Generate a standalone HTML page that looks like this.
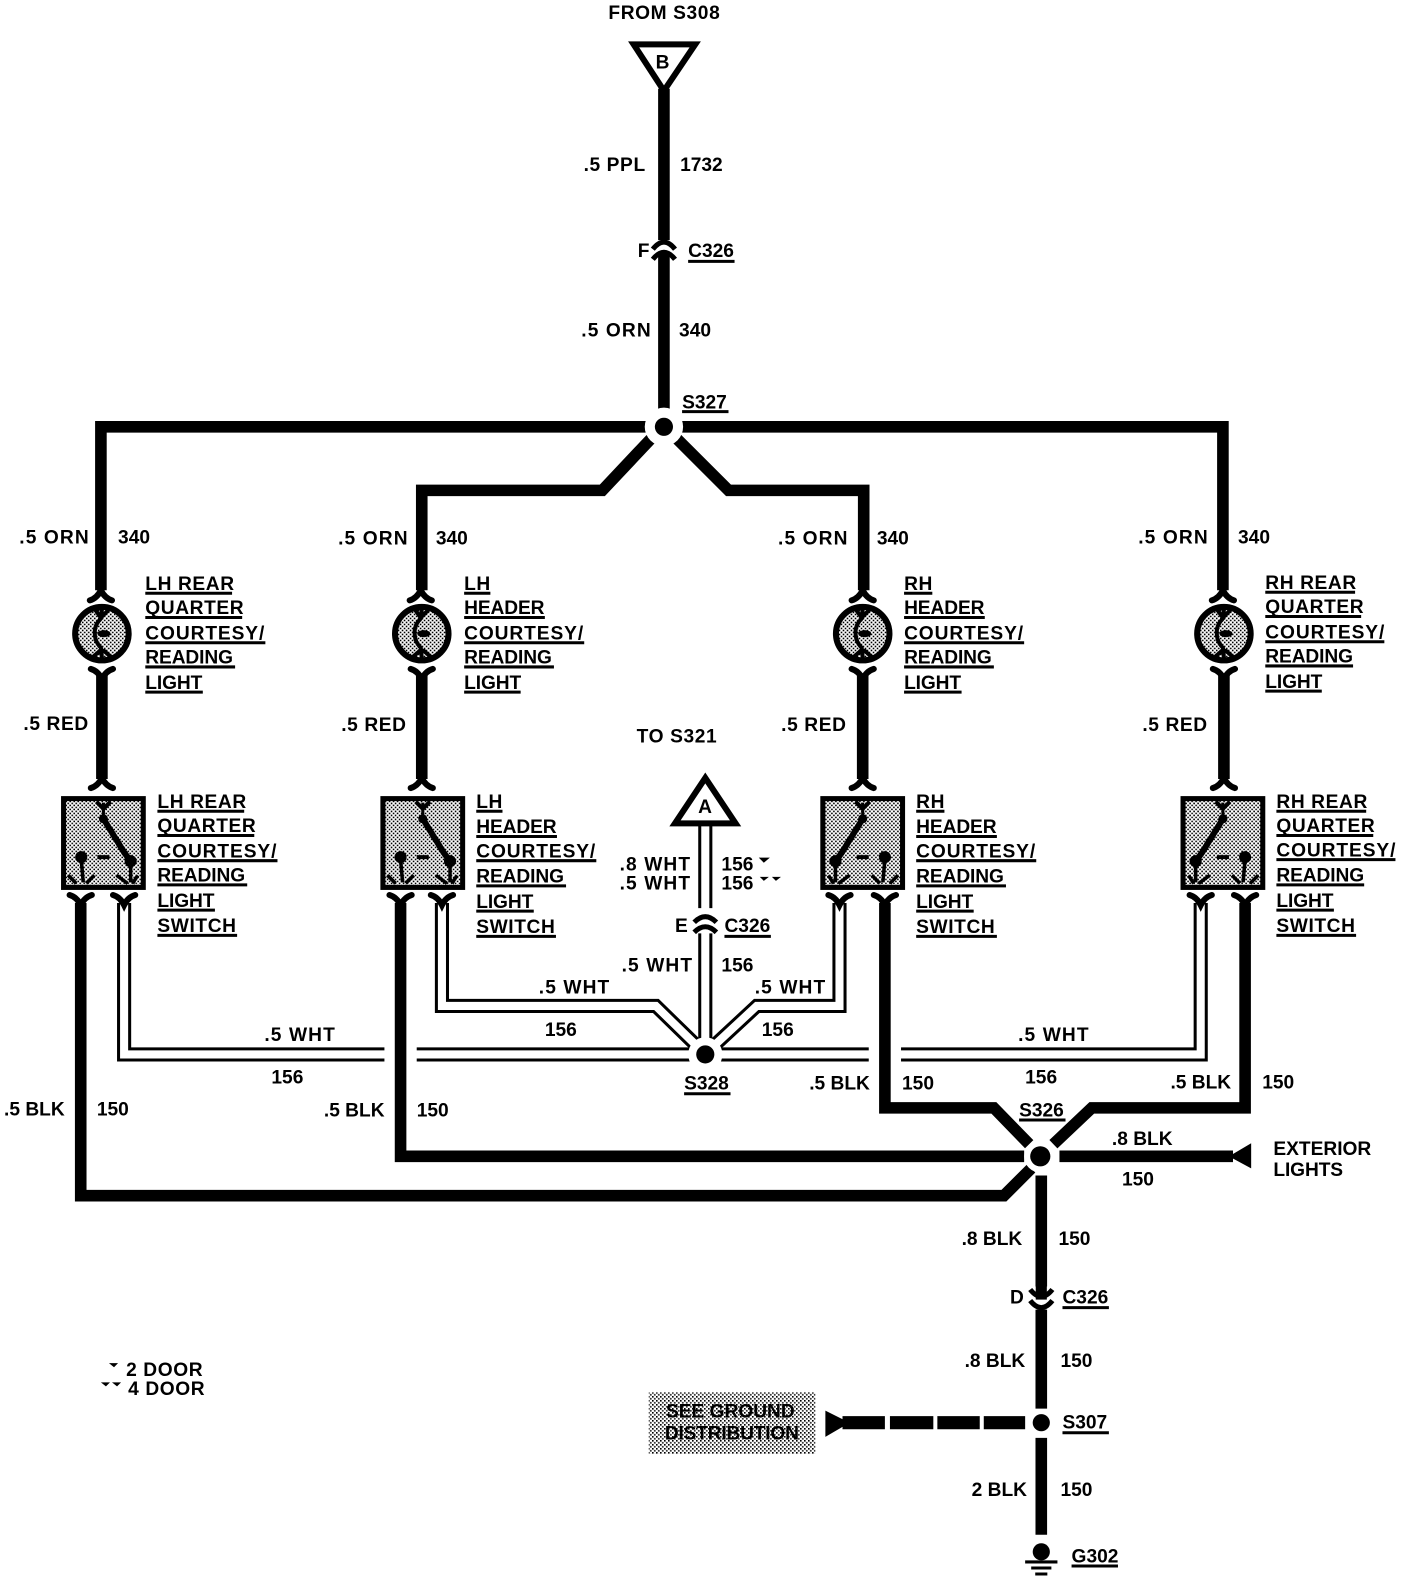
<!DOCTYPE html>
<html><head><meta charset="utf-8"><style>
html,body{margin:0;padding:0;background:#fff}
svg{display:block}
text{font-family:"Liberation Sans",sans-serif;font-weight:bold;font-size:19px;letter-spacing:.6px;fill:#000;transform:translateY(.7px)}
.e{text-anchor:end}
.n{letter-spacing:0}
.t{letter-spacing:-.1px}
.w{letter-spacing:1.1px}
.c{letter-spacing:.9px}
.x{letter-spacing:-.2px}
</style></head><body>
<svg xmlns="http://www.w3.org/2000/svg" width="1408" height="1582" viewBox="0 0 1408 1582">
<defs>
<pattern id="h" width="4" height="4" patternUnits="userSpaceOnUse" patternTransform="scale(.9911)"><rect width="4" height="4" fill="#fff"/><rect width="1.6" height="1.6" fill="#000"/><rect x="2" y="2" width="1.6" height="1.6" fill="#000"/></pattern>
<path id="fd" d="M-11,6 Q-4,4 0,-4 Q4,4 11,6" fill="none" stroke="#000" stroke-width="6" stroke-linecap="round"/>
<path id="fu" d="M-11,-6 Q-4,-4 0,4 Q4,-4 11,-6" fill="none" stroke="#000" stroke-width="6" stroke-linecap="round"/>
<g id="lamp"><circle r="26.5" fill="url(#h)" stroke="#000" stroke-width="6"/>
<path d="M-7,-24 L-1,-16 L7,-24 M0,-24 L-1,-15 Q-8,-8 -7,0 Q-7,8 -1,14 L0,24 M-10,24 L-2,17 L2,17 L10,24" fill="none" stroke="#000" stroke-width="4"/>
<ellipse cx="2" cy="0" rx="6.5" ry="3.5" fill="#000"/></g>
<g id="sw"><rect x="-39.5" y="0" width="79" height="88" fill="url(#h)" stroke="#000" stroke-width="5"/>
<path d="M-7,3 L0,10 L7,3" fill="none" stroke="#000" stroke-width="4"/>
<path d="M0,4 V20" stroke="#000" stroke-width="3" fill="none"/>
<path d="M0,20 L21,54 L27,62" stroke="#000" stroke-width="6" fill="none"/>
<circle cx="0" cy="20" r="4.5"/><circle cx="27" cy="62" r="6"/><circle cx="-22" cy="58" r="6"/>
<path d="M-6,58 H6" stroke="#000" stroke-width="4" fill="none"/>
<path d="M-22,60 L-20,83 M-9,76 L-17,84 M-35,76 L-27,84 M27,64 V83 M34,76 L29,84 M13,76 L24,84" fill="none" stroke="#000" stroke-width="3.5"/></g>
</defs>
<g transform="scale(1.009)">
<!-- black wires -->
<g fill="none" stroke="#000" stroke-width="11.5">
<path d="M658,88 V238 M658,252 V412"/>
<path d="M100,585 V423 H640 M676,423 H1212 V585"/>
<path d="M645,435 L597,486 H418 V585 M671,435 L722,486 H856 V585"/>
<path d="M101,668 V772 M418,668 V772 M855,668 V772 M1213,668 V772"/>
<path d="M80,895 V1185 H995 L1022,1158"/>
<path d="M397,895 V1146 H1015"/>
<path d="M877,895 V1098 H985 L1020,1134"/>
<path d="M1234,895 V1098 H1082 L1044,1134"/>
<path d="M1050,1146 H1222"/>
<path d="M1032,1165 V1275 M1032,1298 V1396 M1032,1425 V1521"/>
<path d="M835,1410 H877 M882,1410 H925 M929,1410 H971 M975,1410 H1016" stroke-width="13"/>
</g>
<!-- double wires -->
<g fill="none" stroke="#000" stroke-width="14">
<path d="M123,895 V1045 H381 M413,1045 H690"/>
<path d="M438,895 V997 H650 L690,1036"/>
<path d="M832,895 V997 H750 L708,1036"/>
<path d="M1190,895 V1045 H893 M861,1045 H708"/>
<path d="M699,815 V900 M699,925 V1036"/>
</g>
<g fill="none" stroke="#fff" stroke-width="8">
<path d="M123,896 V1045 H382 M412,1045 H690"/>
<path d="M438,896 V997 H650 L690,1036"/>
<path d="M832,896 V997 H750 L708,1036"/>
<path d="M1190,896 V1045 H892 M862,1045 H708"/>
<path d="M699,815 V901 M699,924 V1036"/>
</g>
<!-- junctions -->
<circle cx="658" cy="423" r="19" fill="#fff"/><circle cx="658" cy="423" r="9"/>
<circle cx="1031" cy="1146" r="16" fill="#fff"/><circle cx="1031" cy="1146" r="10"/>
<circle cx="699" cy="1045" r="17" fill="#fff"/><circle cx="699" cy="1045" r="9"/>
<circle cx="1032" cy="1410" r="8.5"/>
<!-- triangles -->
<path d="M628,44 H689 L658,90 Z" fill="#fff" stroke="#000" stroke-width="6" stroke-linejoin="miter"/>
<path d="M699,771 L729,816 H669 Z" fill="#fff" stroke="#000" stroke-width="6"/>
<path d="M1240,1133 V1158 L1218,1146 Z"/>
<path d="M818,1398 V1424 L842,1410 Z"/>
<!-- inline connectors -->
<path d="M647,247 Q658,233 669,247" fill="none" stroke="#000" stroke-width="5"/>
<path d="M647,257 Q658,243 669,257 M658,248 V258" fill="none" stroke="#000" stroke-width="5"/>
<path d="M688,914 Q699,903 710,914 M688,924 Q699,913 710,924" fill="none" stroke="#000" stroke-width="5"/>
<path d="M1021,1278 Q1032,1292 1043,1278 M1021,1289 Q1032,1303 1043,1289" fill="none" stroke="#000" stroke-width="5"/>
<path d="M1032,1272 V1288" stroke="#000" stroke-width="11"/>
<!-- device flares -->
<use href="#fd" x="100" y="589"/><use href="#fd" x="417" y="589"/><use href="#fd" x="855" y="589"/><use href="#fd" x="1212" y="589"/>
<use href="#fu" x="101" y="669"/><use href="#fu" x="418" y="669"/><use href="#fu" x="855" y="669"/><use href="#fu" x="1213" y="669"/>
<use href="#fd" x="101" y="775"/><use href="#fd" x="418" y="775"/><use href="#fd" x="855" y="775"/><use href="#fd" x="1213" y="775"/>
<use href="#fu" x="80" y="893"/><use href="#fu" x="123" y="893"/><use href="#fu" x="397" y="893"/><use href="#fu" x="438" y="893"/>
<use href="#fu" x="832" y="893"/><use href="#fu" x="877" y="893"/><use href="#fu" x="1190" y="893"/><use href="#fu" x="1234" y="893"/>
<!-- lamps -->
<use href="#lamp" x="101" y="628"/><use href="#lamp" x="418" y="628"/><use href="#lamp" x="855" y="628"/><use href="#lamp" x="1213" y="628"/>
<!-- switches -->
<use href="#sw" transform="translate(102.5,791.5)"/><use href="#sw" transform="translate(419,791.5)"/>
<use href="#sw" transform="translate(855,791.5) scale(-1,1)"/><use href="#sw" transform="translate(1212,791.5) scale(-1,1)"/>
<!-- ground -->
<circle cx="1032" cy="1538" r="8.5"/>
<path d="M1016,1548 H1048 M1022,1554 H1042 M1026,1560 H1038" stroke="#000" stroke-width="3"/>
<!-- grey box -->
<rect x="643" y="1380" width="165" height="61" fill="url(#h)"/>
<!-- underlines -->
<path stroke="#000" stroke-width="3" fill="none" d="
M682,259 H728 M676,408 H722 M718,928 H764 M678,1084 H724 M1010,1110 H1056 M1053,1296 H1099 M1053,1420 H1099 M1062,1552 H1108
M144,588 H230 M144,612 H240 M144,637 H263 M144,661 H233 M144,686 H201
M156,804 H242 M156,828 H252 M156,853 H275 M156,877 H245 M156,902 H213 M156,927 H235
M460,588 H486 M460,612 H540 M460,637 H579 M460,661 H549 M460,686 H516
M472,804 H498 M472,829 H552 M472,853 H591 M472,878 H561 M472,903 H529 M472,928 H551
M896,588 H924 M896,612 H976 M896,637 H1015 M896,661 H985 M896,686 H953
M908,804 H936 M908,829 H988 M908,853 H1027 M908,878 H997 M908,903 H965 M908,928 H988
M1254,587 H1343 M1254,611 H1349 M1254,636 H1372 M1254,660 H1341 M1254,685 H1310
M1265,804 H1354 M1265,828 H1361 M1265,852 H1383 M1265,877 H1352 M1265,902 H1322 M1265,927 H1344"/>
<!-- small marks -->
<path d="M752,850 H763 L757,855 Z M753,869 H762 L757,873 Z M765,869 H774 L769,873 Z M108,1351 H117 L113,1355 Z M100,1370 H109 L105,1374 Z M111,1370 H120 L116,1374 Z"/>
<!-- text -->
<text x="603" y="18">FROM S308</text>
<text x="657" y="67" text-anchor="middle">B</text>
<text x="699" y="805" text-anchor="middle">A</text>
<text class="e" x="640" y="169">.5 PPL</text><text class="n" x="674" y="169">1732</text>
<text x="632" y="254">F</text><text class="n" x="682" y="254">C326</text>
<text class="e w" x="646" y="333">.5 ORN</text><text class="n" x="673" y="333">340</text>
<text class="n" x="676" y="404">S327</text>
<text class="e w" x="89" y="538">.5 ORN</text><text class="n" x="117" y="538">340</text>
<text class="e w" x="405" y="539">.5 ORN</text><text class="n" x="432" y="539">340</text>
<text class="e w" x="841" y="539">.5 ORN</text><text class="n" x="869" y="539">340</text>
<text class="e w" x="1198" y="538">.5 ORN</text><text class="n" x="1227" y="538">340</text>
<text class="e" x="88" y="723">.5 RED</text><text class="e" x="403" y="724">.5 RED</text>
<text class="e" x="839" y="724">.5 RED</text><text class="e" x="1197" y="724">.5 RED</text>
<text x="631" y="735">TO S321</text>
<text x="144" y="584">LH REAR</text><text x="144" y="608">QUARTER</text><text class="c" x="144" y="633">COURTESY/</text><text class="t" x="144" y="657">READING</text><text class="t" x="144" y="682">LIGHT</text>
<text x="156" y="800">LH REAR</text><text x="156" y="824">QUARTER</text><text class="c" x="156" y="849">COURTESY/</text><text class="t" x="156" y="873">READING</text><text class="t" x="156" y="898">LIGHT</text><text x="156" y="923">SWITCH</text>
<text x="460" y="584">LH</text><text class="t" x="460" y="608">HEADER</text><text class="c" x="460" y="633">COURTESY/</text><text class="t" x="460" y="657">READING</text><text class="t" x="460" y="682">LIGHT</text>
<text x="472" y="800">LH</text><text class="t" x="472" y="825">HEADER</text><text class="c" x="472" y="849">COURTESY/</text><text class="t" x="472" y="874">READING</text><text class="t" x="472" y="899">LIGHT</text><text x="472" y="924">SWITCH</text>
<text x="896" y="584">RH</text><text class="t" x="896" y="608">HEADER</text><text class="c" x="896" y="633">COURTESY/</text><text class="t" x="896" y="657">READING</text><text class="t" x="896" y="682">LIGHT</text>
<text x="908" y="800">RH</text><text class="t" x="908" y="825">HEADER</text><text class="c" x="908" y="849">COURTESY/</text><text class="t" x="908" y="874">READING</text><text class="t" x="908" y="899">LIGHT</text><text x="908" y="924">SWITCH</text>
<text x="1254" y="583">RH REAR</text><text x="1254" y="607">QUARTER</text><text class="c" x="1254" y="632">COURTESY/</text><text class="t" x="1254" y="656">READING</text><text class="t" x="1254" y="681">LIGHT</text>
<text x="1265" y="800">RH REAR</text><text x="1265" y="824">QUARTER</text><text class="c" x="1265" y="848">COURTESY/</text><text class="t" x="1265" y="873">READING</text><text class="t" x="1265" y="898">LIGHT</text><text x="1265" y="923">SWITCH</text>
<text class="e w" x="685" y="862">.8 WHT</text><text class="e w" x="685" y="881">.5 WHT</text>
<text class="n" x="715" y="862">156</text><text class="n" x="715" y="881">156</text>
<text x="669" y="923">E</text><text class="n" x="718" y="923">C326</text>
<text class="e w" x="687" y="962">.5 WHT</text><text class="n" x="715" y="962">156</text>
<text class="w" x="534" y="984">.5 WHT</text><text class="n" x="540" y="1026">156</text>
<text class="w" x="748" y="984">.5 WHT</text><text class="n" x="755" y="1026">156</text>
<text class="w" x="262" y="1031">.5 WHT</text><text class="n" x="269" y="1073">156</text>
<text class="w" x="1009" y="1031">.5 WHT</text><text class="n" x="1016" y="1073">156</text>
<text class="n" x="678" y="1079">S328</text>
<text class="n" x="4" y="1105">.5 BLK</text><text class="n" x="96" y="1105">150</text>
<text class="n" x="321" y="1106">.5 BLK</text><text class="n" x="413" y="1106">150</text>
<text class="n" x="802" y="1079">.5 BLK</text><text class="n" x="894" y="1079">150</text>
<text class="n" x="1160" y="1078">.5 BLK</text><text class="n" x="1251" y="1078">150</text>
<text class="n" x="1010" y="1106">S326</text>
<text class="n" x="1102" y="1134">.8 BLK</text><text class="n" x="1112" y="1174">150</text>
<text class="n" x="1262" y="1144">EXTERIOR</text><text class="t" x="1262" y="1165">LIGHTS</text>
<text class="n" x="953" y="1233">.8 BLK</text><text class="n" x="1049" y="1233">150</text>
<text x="1001" y="1291">D</text><text class="n" x="1053" y="1291">C326</text>
<text class="n" x="956" y="1354">.8 BLK</text><text class="n" x="1051" y="1354">150</text>
<text class="n" x="1053" y="1415">S307</text>
<text class="n" x="963" y="1482">2 BLK</text><text class="n" x="1051" y="1482">150</text>
<text class="n" x="1062" y="1548">G302</text>
<text class="n" x="660" y="1404">SEE GROUND</text><text class="x" x="659" y="1426">DISTRIBUTION</text>
<text x="125" y="1363">2 DOOR</text><text x="127" y="1382">4 DOOR</text>
</g>
</svg>
</body></html>
